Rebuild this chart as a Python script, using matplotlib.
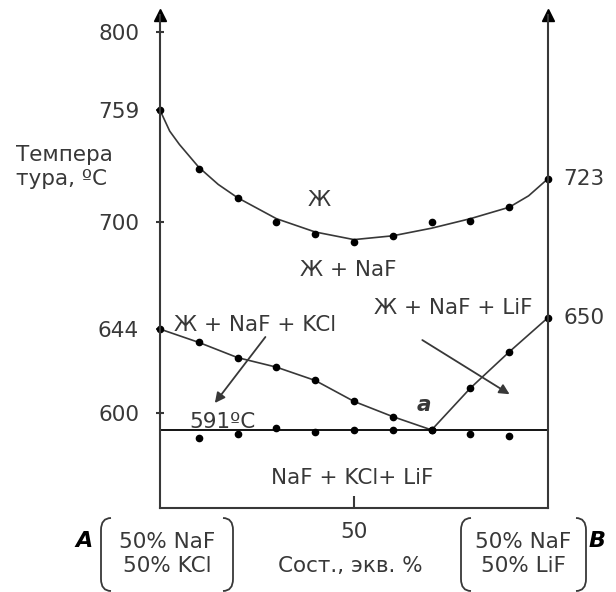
import matplotlib
matplotlib.use("Agg")
import matplotlib.pyplot as plt
from matplotlib.path import Path
from matplotlib.patches import PathPatch

plt.rcParams['font.family'] = ['DejaVu Sans']

# ---- data ----
comp_pts = [0, 10, 20, 30, 40, 50, 60, 70, 80, 90, 100]
liquidus_pts = [759, 728, 713, 700, 694, 690, 693, 700, 701, 708, 723]
liquidus_curve_x = [0, 2.5, 5, 10, 15, 20, 30, 40, 50, 60, 70, 80, 90, 95, 100]
liquidus_curve_t = [759, 748, 741, 729, 720, 713, 702, 695, 691, 693, 697, 702, 708, 714, 723]

kcl_x = [0, 10, 20, 30, 40, 50, 60, 70]
kcl_t = [644, 637, 629, 624, 617, 606, 598, 591]
lif_x = [70, 80, 90, 100]
lif_t = [591, 613, 632, 650]

solidus_x = [10, 20, 30, 40, 50, 60, 80, 90]
solidus_t = [587, 589, 592, 590, 591, 591, 589, 588]
eutectic_t = 591

left_ticks = [800, 759, 700, 644, 600]
right_labels = [723, 650]
bottom_ticks = [50]

C = '#383838'
fs = 15.5
fig = plt.figure(figsize=(6.16, 5.92), dpi=100)
ax = fig.add_axes([160/616, 1-508/592, 388/616, (508-15)/592])
ax.set_xlim(0, 100)
ax.set_ylim(550, 809)
ax.patch.set_alpha(0)
ax.spines['top'].set_visible(False)
for s in ['left', 'right', 'bottom']:
    ax.spines[s].set_color(C)
    ax.spines[s].set_linewidth(1.5)

# axis arrows
ax.plot([0, 100], [809, 809], ls='none', marker='^', ms=9, color='black', clip_on=False)

ax.set_yticks(left_ticks)
ax.set_yticklabels([str(v) for v in left_ticks])
ax.tick_params(axis='y', direction='inout', length=6, width=1.5, color=C,
               labelsize=fs, labelcolor=C, pad=12)
ax.set_xticks(bottom_ticks)
ax.set_xticklabels([str(v) for v in bottom_ticks])
ax.tick_params(axis='x', direction='in', length=9, width=1.5, color=C,
               labelsize=fs, labelcolor=C, pad=10)

# curves
ax.plot(liquidus_curve_x, liquidus_curve_t, color=C, lw=1.2, clip_on=False)
ax.plot(comp_pts, liquidus_pts, ls='none', marker='o', ms=4.5, color='black', clip_on=False)
ax.plot(kcl_x, kcl_t, color=C, lw=1.2, marker='o', ms=4.5, mfc='black', mec='black', clip_on=False)
ax.plot(lif_x, lif_t, color=C, lw=1.2, marker='o', ms=4.5, mfc='black', mec='black', clip_on=False)
ax.axhline(eutectic_t, xmin=0, xmax=1, color='black', lw=1.3)
ax.plot(solidus_x, solidus_t, ls='none', marker='o', ms=4.5, color='black')

# right-side labels
for v in right_labels:
    ax.text(104, v, str(v), fontsize=fs, color=C, va='center', ha='left', clip_on=False)

ax.text(41, 712, 'Ж', fontsize=fs, color=C, ha='center', va='center')
ax.text(48.5, 675, 'Ж + NaF', fontsize=fs, color=C, ha='center', va='center')
ax.text(24.5, 646, 'Ж + NaF + KCl', fontsize=fs, color=C, ha='center', va='center')
ax.text(75.5, 655, 'Ж + NaF + LiF', fontsize=fs, color=C, ha='center', va='center')
ax.text(16, 595, '591ºC', fontsize=fs, color=C, ha='center', va='center')
ax.text(68, 604, 'a', fontsize=fs, color=C, ha='center', va='center', style='italic', weight='bold')
ax.text(49.5, 566, 'NaF + KCl+ LiF', fontsize=fs, color=C, ha='center', va='center')

ax.annotate('', xy=(13.7, 604), xytext=(27.6, 641),
            arrowprops=dict(arrowstyle='-|>', color=C, lw=1.3, mutation_scale=15))
ax.annotate('', xy=(90.7, 609), xytext=(67, 639),
            arrowprops=dict(arrowstyle='-|>', color=C, lw=1.3, mutation_scale=15))

# y-axis title
fig.text(16/616, 1-167/592, 'Темпера\nтура, ºC', fontsize=fs, color=C, ha='left', va='center',
         linespacing=1.3)

# bottom texts
fig.text(350/616, 1-566/592, 'Сост., экв. %', fontsize=fs, color=C, ha='center', va='center')
fig.text(84/616, 1-541/592, 'A', fontsize=16, color='black', ha='center', va='center',
         style='italic', weight='bold')
fig.text(597/616, 1-541/592, 'B', fontsize=16, color='black', ha='center', va='center',
         style='italic', weight='bold')
fig.text(167/616, 1-554/592, '50% NaF\n50% KCl', fontsize=fs, color=C, ha='center', va='center',
         linespacing=1.3)
fig.text(523/616, 1-554/592, '50% NaF\n50% LiF', fontsize=fs, color=C, ha='center', va='center',
         linespacing=1.3)


def bracket(x, y0, y1, side):
    # x, y in pixel coords measured from top-left
    d = 10 * side
    pts = [(x + d, y0), (x, y0), (x, y0 + 12), (x, y1 - 12), (x, y1), (x + d, y1)]
    pts = [(px / 616, 1 - py / 592) for px, py in pts]
    codes = [Path.MOVETO, Path.CURVE3, Path.CURVE3, Path.LINETO, Path.CURVE3, Path.CURVE3]
    fig.patches.append(PathPatch(Path(pts, codes), transform=fig.transFigure,
                                 fill=False, edgecolor=C, lw=1.3))

bracket(101, 518, 591, 1)
bracket(233, 518, 591, -1)
bracket(461, 518, 591, 1)
bracket(586, 518, 591, -1)

fig.savefig('out.png', dpi=100)
